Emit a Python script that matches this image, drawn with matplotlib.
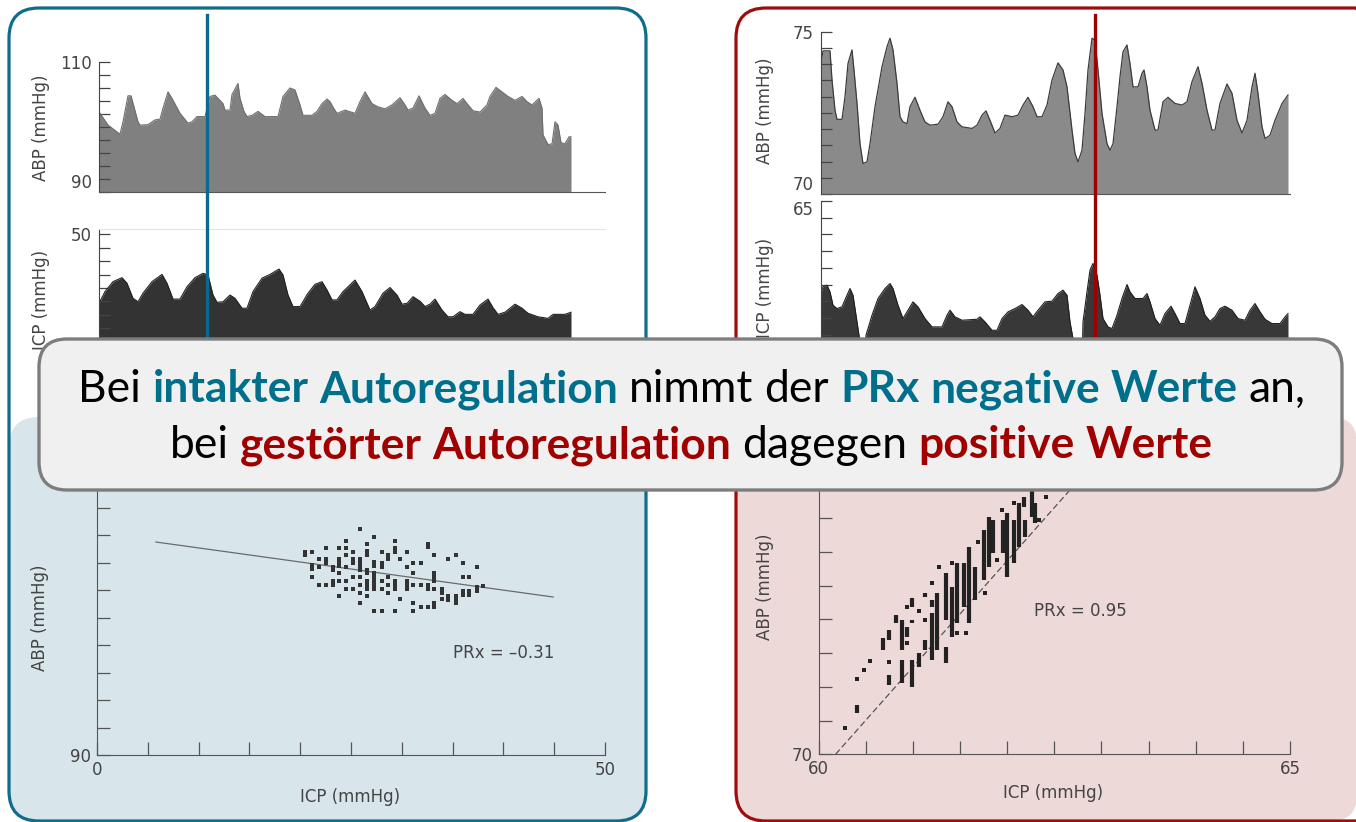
import matplotlib
matplotlib.use("Agg")
import matplotlib.pyplot as plt
from matplotlib.patches import FancyBboxPatch
from matplotlib.lines import Line2D
from matplotlib import transforms

# ---------------- data ----------------
# intact autoregulation: ABP / ICP waveforms (time in arbitrary units)
abp_l_t = [0, 9, 21, 24, 29, 32, 39, 41, 49, 56, 61, 64, 69, 73, 81, 89, 93, 98, 106,
           111, 116, 124, 126, 131, 133, 139, 141, 145, 148, 153, 159, 166, 179, 184,
           191, 196, 201, 204, 213, 218, 223, 228, 231, 235, 238, 246, 256, 261, 266,
           273, 279, 286, 293, 301, 306, 309, 314, 320, 326, 331, 336, 341, 346, 353,
           358, 364, 368, 374, 381, 388, 391, 397, 403, 409, 416, 423, 428, 433, 440,
           443, 444, 449, 453, 456, 459, 462, 466, 470, 472]
abp_l = [102.35, 100.3, 98.9, 100.8, 104.8, 104.8, 100.8, 100.3, 100.35, 101.1, 101.2,
         102.9, 105.4, 104.4, 102.1, 100.6, 100.8, 101.6, 101.6, 104.7, 104.9, 103.6,
         102.6, 102.6, 105.0, 106.7, 104.4, 102.4, 101.6, 101.8, 102.4, 101.6, 101.6,
         104.7, 106.0, 105.7, 103.4, 101.8, 101.8, 102.4, 103.6, 104.3, 103.9, 102.8,
         102.1, 102.6, 102.1, 103.9, 105.4, 103.6, 103.1, 102.8, 103.4, 104.5, 103.4,
         102.6, 102.9, 104.8, 102.9, 101.8, 102.1, 104.4, 105.0, 104.1, 103.6, 104.4,
         103.6, 102.5, 102.3, 103.4, 104.7, 106.1, 105.4, 104.7, 104.1, 104.7, 103.9,
         103.4, 104.4, 102.9, 98.8, 97.3, 97.4, 100.8, 100.3, 97.6, 97.4, 98.5, 98.5]

icp_l_t = [0, 6, 14, 23, 28, 34, 39, 44, 53, 63, 68, 74, 81, 88, 96, 104, 109, 114, 118,
           124, 131, 136, 143, 148, 154, 163, 171, 180, 184, 189, 194, 201, 209, 216,
           223, 228, 233, 238, 244, 251, 256, 263, 271, 276, 284, 291, 298, 303, 308,
           314, 321, 326, 331, 336, 343, 349, 354, 361, 366, 374, 381, 389, 394, 399,
           406, 416, 423, 429, 439, 449, 454, 466, 472]
icp_l = [24.3, 28.7, 32.4, 33.9, 31.8, 26.2, 24.9, 28.1, 32.4, 35.1, 31.8, 25.9, 25.9,
         30.5, 33.9, 35.5, 34.9, 27.4, 24.7, 24.9, 27.4, 26.2, 22.5, 22.5, 28.7, 33.7,
         35.1, 37.1, 34.9, 27.4, 23.1, 23.1, 28.1, 31.4, 32.4, 29.3, 25.6, 25.6, 28.7,
         31.2, 33.0, 28.7, 21.8, 23.1, 28.1, 30.2, 27.4, 24.0, 24.3, 26.8, 25.1, 23.1,
         24.0, 25.9, 21.8, 19.3, 19.3, 21.2, 20.2, 20.2, 23.7, 25.9, 22.7, 20.2, 21.0,
         24.0, 22.5, 20.6, 19.3, 18.7, 20.2, 20.2, 21.0]
marker_l_t = 108

# impaired autoregulation: ABP / ICP waveforms
abp_r_t = [0, 2, 9, 11, 14, 16, 21, 24, 27, 31, 33, 36, 39, 42, 46, 49, 54, 61, 66, 69,
           72, 76, 79, 82, 86, 89, 94, 99, 104, 109, 117, 122, 127, 131, 136, 141, 151,
           156, 161, 165, 169, 174, 179, 184, 191, 197, 202, 207, 212, 216, 221, 226,
           231, 237, 242, 246, 251, 254, 257, 261, 264, 267, 271, 274, 277, 281, 286,
           289, 292, 296, 299, 302, 306, 309, 312, 317, 321, 323, 326, 329, 334, 337,
           342, 347, 354, 361, 366, 371, 377, 381, 386, 391, 394, 399, 406, 411, 416,
           421, 426, 431, 434, 437, 441, 444, 449, 454, 461, 467]
abp_r = [74.02, 74.41, 74.41, 73.51, 72.58, 72.30, 72.30, 73.00, 74.02, 74.44, 73.82,
         72.79, 71.55, 70.94, 70.99, 71.55, 72.69, 73.92, 74.54, 74.80, 74.44, 73.41,
         72.38, 72.22, 72.17, 72.69, 72.98, 72.58, 72.22, 72.12, 72.15, 72.38, 72.84,
         72.69, 72.22, 72.07, 72.02, 72.12, 72.43, 72.56, 72.27, 71.88, 72.02, 72.43,
         72.38, 72.43, 72.74, 72.98, 72.69, 72.38, 72.38, 72.74, 73.51, 74.04, 73.82,
         73.30, 71.97, 71.25, 70.99, 71.35, 72.48, 73.82, 74.80, 74.74, 73.82, 72.48,
         71.55, 71.35, 71.55, 72.69, 73.61, 74.38, 74.59, 74.02, 73.30, 73.30, 73.72,
         73.82, 73.30, 72.58, 71.97, 71.97, 72.84, 72.98, 72.79, 72.74, 72.84, 73.46,
         73.92, 73.41, 72.58, 71.97, 71.97, 72.79, 73.39, 73.10, 72.27, 71.88, 72.27,
         73.30, 73.72, 73.10, 72.07, 71.71, 71.81, 72.27, 72.79, 73.05]

icp_r_t = [0, 2, 6, 9, 12, 16, 21, 26, 29, 32, 36, 38, 40, 43, 45, 51, 57, 64, 69, 72,
           77, 82, 87, 92, 97, 104, 111, 121, 126, 129, 134, 141, 156, 159, 164, 171,
           176, 181, 187, 194, 201, 207, 212, 217, 224, 231, 237, 242, 246, 249, 252,
           253, 261, 262, 266, 269, 272, 276, 279, 282, 287, 291, 296, 301, 306, 309,
           314, 322, 326, 329, 334, 339, 344, 350, 354, 359, 364, 369, 374, 379, 384,
           389, 394, 399, 404, 411, 417, 424, 429, 434, 439, 444, 451, 459, 464, 467]
icp_r = [62.28, 62.43, 62.48, 62.28, 61.88, 61.78, 61.83, 62.18, 62.38, 62.18, 61.38,
         60.98, 60.0, 60.0, 60.98, 61.58, 62.08, 62.38, 62.53, 62.38, 61.88, 61.48,
         61.73, 61.98, 61.83, 61.48, 61.23, 61.23, 61.58, 61.73, 61.53, 61.43, 61.46,
         61.53, 61.38, 61.13, 61.13, 61.48, 61.68, 61.78, 61.90, 61.73, 61.53, 61.73,
         61.98, 62.00, 62.23, 62.33, 62.18, 61.38, 60.88, 60.0, 60.0, 61.38, 62.28,
         62.93, 63.13, 62.78, 62.18, 61.48, 61.23, 61.18, 61.58, 62.08, 62.50, 62.28,
         62.08, 62.08, 62.23, 61.98, 61.48, 61.28, 61.63, 61.85, 61.63, 61.33, 61.33,
         61.88, 62.43, 62.08, 61.58, 61.40, 61.53, 61.78, 61.85, 61.73, 61.48, 61.43,
         61.73, 61.93, 61.68, 61.46, 61.33, 61.33, 61.53, 61.63]
marker_r_t = 274

# scatter, intact (ICP, ABP)
sc_l_icp = [25.88, 27.29, 24.50, 29.32, 26.60, 32.54, 32.54, 20.47, 20.47, 21.12, 22.53,
            23.84, 24.50, 25.16, 26.60, 26.60, 28.01, 29.32, 29.32, 30.47, 33.19, 35.30,
            34.57, 35.98, 37.36, 21.88, 22.53, 22.53, 23.84, 23.84, 23.84, 24.50, 25.16,
            25.16, 25.88, 25.88, 25.88, 25.88, 27.29, 27.29, 28.01, 28.66, 28.66, 29.82,
            31.13, 31.88, 21.12, 21.12, 21.88, 23.19, 23.19, 24.50, 26.60, 26.60, 27.29,
            27.29, 27.29, 27.29, 27.29, 28.01, 28.66, 30.47, 31.13, 33.19, 33.19, 33.19,
            21.12, 23.84, 25.16, 25.88, 26.60, 26.60, 26.60, 28.01, 28.66, 29.32, 29.32,
            29.32, 30.47, 30.47, 30.47, 31.13, 31.88, 32.54, 32.54, 33.19, 33.92, 33.92,
            35.98, 36.64, 21.88, 22.53, 23.19, 23.19, 23.84, 24.50, 25.16, 25.88, 24.50,
            25.88, 28.01, 28.66, 35.98, 35.98, 36.64, 36.64, 37.36, 37.36, 37.95, 23.84,
            26.60, 29.82, 31.13, 31.88, 32.54, 33.19, 33.19, 33.92, 34.57, 34.57, 35.30,
            35.30, 35.30, 25.88, 27.29, 28.01, 29.32, 31.13]
sc_l_abp = [106.41, 105.82, 105.58, 105.58, 105.34, 105.34, 105.10, 104.78, 104.54,
            104.78, 105.07, 105.07, 105.07, 104.78, 104.82, 104.58, 104.78, 105.02, 104.78,
            104.78, 104.54, 104.58, 104.22, 103.98, 103.69, 104.22, 104.22, 103.98, 104.22,
            103.98, 103.75, 104.54, 104.22, 103.98, 104.22, 103.98, 103.69, 103.45, 104.05,
            103.75, 103.98, 104.54, 104.22, 104.22, 103.98, 103.98, 103.80, 103.50, 103.69,
            103.69, 103.45, 103.69, 103.45, 103.21, 103.21, 102.95, 102.65, 102.36, 102.04,
            103.69, 102.92, 103.69, 103.21, 103.21, 102.92, 102.65, 102.92, 103.21, 102.92,
            102.92, 102.65, 102.36, 102.04, 102.65, 102.36, 102.65, 102.36, 102.04, 102.65,
            102.36, 102.04, 102.36, 102.36, 102.36, 102.04, 102.04, 102.10, 101.80, 102.92,
            102.92, 102.36, 102.36, 102.65, 102.36, 102.65, 102.65, 102.04, 102.36, 102.04,
            101.80, 102.04, 101.80, 101.95, 101.65, 101.95, 101.65, 102.20, 101.90, 102.30,
            101.56, 101.56, 101.32, 101.03, 100.74, 100.74, 101.03, 100.74, 101.32, 101.56,
            101.30, 101.56, 101.30, 101.03, 101.03, 100.49, 100.49, 100.49, 100.49]
fit_l_icp = [5.8, 44.9]
fit_l_abp = [105.49, 101.49]

# scatter, impaired: single points and vertical runs (ICP, ABP from, ABP to)
sc_r_icp = [60.28, 60.41, 60.48, 60.54, 60.75, 60.94, 60.94, 61.07, 61.13, 61.20, 61.28,
            61.41, 61.47, 61.56, 61.69, 61.77, 61.89, 61.94, 62.07, 62.34, 62.41]
sc_r_abp = [70.39, 71.11, 71.25, 71.39, 71.37, 72.19, 71.65, 72.12, 71.99, 72.54, 72.78,
            72.83, 71.80, 71.80, 73.14, 72.39, 72.88, 73.62, 73.72, 73.48, 73.82]
run_r_icp = [60.41, 60.68, 60.75, 60.75, 60.82, 60.88, 60.88, 60.94, 60.99, 60.99, 60.99,
             61.07, 61.13, 61.13, 61.20, 61.20, 61.26, 61.35, 61.35, 61.41, 61.47, 61.54,
             61.60, 61.66, 61.75, 61.81, 61.85, 61.96, 62.00, 62.07, 62.13, 62.18, 62.19,
             62.26, 62.30]
run_r_lo = [70.61, 71.55, 71.70, 71.03, 71.95, 71.55, 71.06, 71.74, 72.19, 71.95, 71.00,
            71.30, 72.33, 71.55, 72.19, 71.40, 71.55, 71.99, 71.35, 71.74, 71.95, 72.19,
            71.95, 72.29, 72.59, 72.78, 72.99, 72.99, 72.63, 72.84, 73.08, 73.67, 73.22,
            73.52, 73.43]
run_r_hi = [70.73, 71.73, 71.84, 71.18, 72.07, 71.99, 71.40, 71.89, 72.32, 71.99, 71.40,
            71.50, 72.39, 71.70, 72.29, 72.10, 72.39, 72.69, 71.59, 72.48, 72.84, 72.84,
            73.08, 72.78, 73.33, 73.52, 73.48, 73.48, 73.58, 73.48, 73.73, 73.82, 73.48,
            73.92, 73.73]
fit_r_icp = [60.18, 62.75]
fit_r_abp = [70.0, 74.05]

prx_l = "PRx = \u20130.31"
prx_r = "PRx = 0.95"

TEAL = "#0f6d8b"
RED = "#9e0c0c"
TXT_TEAL = "#006f8c"
TXT_RED = "#a00000"
INK = "#333333"

# ---------------- figure ----------------
W, H = 1356, 822
fig = plt.figure(figsize=(W / 100, H / 100), dpi=100)
pix = transforms.Affine2D().scale(1 / W, 1 / H) + fig.transFigure


def box(x0, y0, x1, y1):
    return [x0 / W, 1 - y1 / H, (x1 - x0) / W, (y1 - y0) / H]


def rbox(x0, y0, x1, y1, r, **kw):
    p = FancyBboxPatch((x0, H - y1), x1 - x0, y1 - y0,
                       boxstyle="round,pad=0,rounding_size=%g" % r,
                       transform=pix, **kw)
    fig.add_artist(p)
    return p


def label(x, y, s, rot=0, **kw):
    fig.text(x / W, 1 - y / H, s, rotation=rot, ha="center", va="center",
             fontsize=12, color="#444444", zorder=3, **kw)


# panel backgrounds and frames
rbox(9, 417, 646, 821, 30, facecolor="#d8e6ec", edgecolor="none", zorder=-2)
rbox(736, 417, 1357, 821, 26, facecolor="#eed9d9", edgecolor="none", zorder=-2)
rbox(9, 8, 646, 821, 30, facecolor="none", edgecolor=TEAL, lw=2.3, zorder=4)
rbox(736, 8, 1385, 821, 30, facecolor="none", edgecolor=RED, lw=2.3, zorder=4)


def wave_axes(rect, ylim, yticks, ylabels, xlim):
    ax = fig.add_axes(rect)
    ax.set_facecolor("none")
    ax.set_xlim(*xlim)
    ax.set_ylim(*ylim)
    ax.set_xticks([])
    ax.set_yticks(yticks)
    ax.set_yticklabels(ylabels)
    ax.tick_params(axis="y", direction="in", length=8, width=0.9, color="#444444",
                   labelsize=12, labelcolor="#444444", pad=5)
    for s in ("top", "right"):
        ax.spines[s].set_visible(False)
    ax.spines["left"].set_color("#444444")
    ax.spines["bottom"].set_color("#555555")
    return ax


# intact: ABP
ax = wave_axes(box(99, 62, 605, 192), (90, 110), range(90, 111, 2),
               ["90"] + [""] * 9 + ["110"], (0, 506))
ax.fill_between(abp_l_t, 90, abp_l, color="#808080", lw=0)
ax.plot(abp_l_t, abp_l, color="#6e6e6e", lw=0.8)
ax.get_yticklabels()[0].set_verticalalignment("bottom")
blend = transforms.blended_transform_factory(ax.transData, pix)
fig.add_artist(Line2D([marker_l_t, marker_l_t], [H - 15, H - 345], transform=blend,
                      color="#0b6a8b", lw=2.4, zorder=5))

# intact: ICP
ax = wave_axes(box(99, 229, 605, 368.5), (0, 52.05), range(0, 51, 5),
               [""] * 10 + ["50"], (0, 506))
ax.spines["top"].set_visible(True)
ax.spines["top"].set_color("#e4e4e4")
ax.spines["bottom"].set_visible(False)
ax.fill_between(icp_l_t, 0, icp_l, color="#333333", lw=0)
ax.plot(icp_l_t, icp_l, color="#222222", lw=0.8)

# impaired: ABP
ax = wave_axes(box(821, 31.7, 1290, 194), (70, 75), [70 + 0.5 * i for i in range(11)],
               ["70"] + [""] * 9 + ["75"], (0, 469))
ax.fill_between(abp_r_t, 70, abp_r, color="#8a8a8a", lw=0)
ax.plot(abp_r_t, abp_r, color="#3c3c3c", lw=0.9)
ax.get_yticklabels()[0].set_verticalalignment("bottom")
blend = transforms.blended_transform_factory(ax.transData, pix)
fig.add_artist(Line2D([marker_r_t, marker_r_t], [H - 15, H - 345], transform=blend,
                      color="#a00000", lw=2.4, zorder=5))

# impaired: ICP
ax = wave_axes(box(821, 201, 1290, 368), (60, 65), [60 + 0.5 * i for i in range(11)],
               [""] * 10 + ["65"], (0, 469))
ax.spines["bottom"].set_visible(False)
ax.fill_between(icp_r_t, 60, icp_r, color="#383838", lw=0)
ax.plot(icp_r_t, icp_r, color="#1e1e1e", lw=0.8)
ax.get_yticklabels()[-1].set_verticalalignment("top")


def scatter_axes(rect, xlim, ylim, xticks, xlabels, yticks, ylabels):
    ax = fig.add_axes(rect)
    ax.set_facecolor("none")
    ax.set_xlim(*xlim)
    ax.set_ylim(*ylim)
    ax.set_xticks(xticks)
    ax.set_xticklabels(xlabels)
    ax.set_yticks(yticks)
    ax.set_yticklabels(ylabels)
    ax.tick_params(direction="in", length=9.5, width=0.9, color="#555555",
                   labelsize=12, labelcolor="#444444", pad=4)
    for s in ("top", "right"):
        ax.spines[s].set_visible(False)
    for s in ("left", "bottom"):
        ax.spines[s].set_color("#555555")
    return ax


# intact: scatter
ax = scatter_axes(box(97, 480, 605, 755), (0, 50), (90, 110),
                  range(0, 51, 5), ["0"] + [""] * 9 + ["50"],
                  range(90, 111, 2), ["90"] + [""] * 10)
ax.plot(fit_l_icp, fit_l_abp, color="#6a6a6a", lw=0.9)
ax.plot(sc_l_icp, sc_l_abp, "s", ms=2.5, color=INK, mew=0)
ax.text(0.80, 0.37, prx_l, transform=ax.transAxes, ha="center", va="center",
        fontsize=12, color="#444444")

# impaired: scatter
ax = scatter_axes(box(818.6, 417, 1290, 754.3), (60, 65), (70, 75),
                  [60 + 0.5 * i for i in range(11)], ["60"] + [""] * 9 + ["65"],
                  [70 + 0.5 * i for i in range(11)], ["70"] + [""] * 10)
ax.plot(fit_r_icp, fit_r_abp, color="#555555", lw=0.9, dashes=(5, 2.5))
ax.vlines(run_r_icp, run_r_lo, run_r_hi, color="#222222", lw=3.0)
ax.plot(sc_r_icp, sc_r_abp, "s", ms=2.9, color="#222222", mew=0)
ax.text(0.555, 0.425, prx_r, transform=ax.transAxes, ha="center", va="center",
        fontsize=12, color="#444444")

# axis titles
label(41, 128, "ABP (mmHg)", rot=90)
label(41, 300, "ICP (mmHg)", rot=90)
label(765, 111, "ABP (mmHg)", rot=90)
label(765, 288, "ICP (mmHg)", rot=90)
label(40, 618, "ABP (mmHg)", rot=90)
label(350, 797, "ICP (mmHg)")
label(765, 587, "ABP (mmHg)", rot=90)
label(1053, 793, "ICP (mmHg)")

# ---------------- callout ----------------
rbox(39, 339, 1342, 490, 28, facecolor="#f0f0f0", edgecolor="#7d7d7d", lw=2.4, zorder=10)

FONT = ["Lato", "DejaVu Sans"]
line1 = [("Bei", "black", "normal"), ("intakter Autoregulation", TXT_TEAL, "bold"),
         ("nimmt der", "black", "normal"), ("PRx negative Werte", TXT_TEAL, "bold"),
         ("an,", "black", "normal")]
line2 = [("bei", "black", "normal"), ("gestörter Autoregulation", TXT_RED, "bold"),
         ("dagegen", "black", "normal"), ("positive Werte", TXT_RED, "bold")]

renderer = fig.canvas.get_renderer()


def text_w(s, fs, wt):
    t = fig.text(0, 0, s, fontsize=fs, fontweight=wt, family=FONT)
    w = t.get_window_extent(renderer).width
    t.remove()
    return w


def rich_line(phrases, y_px, cx, fs):
    words = [(w, c, wt) for p, c, wt in phrases for w in p.split(" ")]
    sp = {wt: text_w("x x", fs, wt) - text_w("xx", fs, wt) for wt in ("normal", "bold")}
    arts, widths = [], []
    for w, c, wt in words:
        a = fig.text(0, 1 - y_px / H, w, color=c, fontweight=wt, fontsize=fs,
                     family=FONT, va="baseline", zorder=12)
        arts.append(a)
        widths.append(a.get_window_extent(renderer).width)
    total = sum(widths) + sum(sp[words[i][2]] for i in range(len(words) - 1))
    x = cx - total / 2
    for i, a in enumerate(arts):
        a.set_x(x / W)
        x += widths[i] + (sp[words[i][2]] if i < len(words) - 1 else 0)
    return arts, total


arts, tw = rich_line(line1, 402, 692, 30)
for a in arts:
    a.remove()
fs = 30 * 1225 / tw
rich_line(line1, 402, 692, fs)
rich_line(line2, 458, 691, fs)

fig.savefig("out.png", dpi=100)
